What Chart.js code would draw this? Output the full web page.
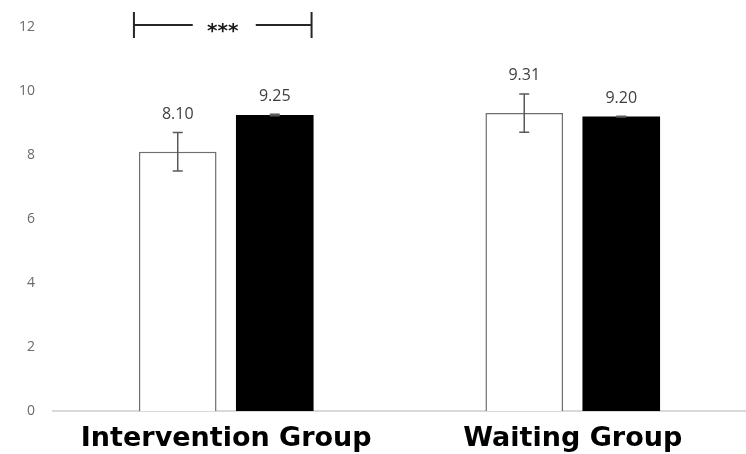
<!doctype html>
<html>

<head>
    <meta charset="utf-8" />
    <title>Intervention vs waiting group</title>
    <style>
        html,
        body {
            margin: 0px;
            padding: 0px;
            background-color: #ffffff;
        }

        .chart {
            width: 746px;
            height: 454px;
        }
    </style>
</head>

<body>

    <div class="chart">
        <canvas id="chart_groups"></canvas>
    </div>

    <script src="https://cdn.jsdelivr.net/npm/chart.js@4.4.0/dist/chart.umd.min.js"></script>

    <script>

        // data
        var groups = ['Intervention Group', 'Waiting Group'];
        var seriesNames = ['Pre', 'Post'];
        var preValues = [8.10, 9.31];
        var postValues = [9.25, 9.20];
        var preErrors = [0.60, 0.60];
        var postErrors = [0.02, 0.01];
        var yTicks = [0, 2, 4, 6, 8, 10, 12];
        var significance = '***';

        // error bars + value labels above each bar
        var errorBarsPlugin = {
            id: 'errorBars',
            afterDatasetsDraw: function (chart) {
                var ctx = chart.ctx;
                var y = chart.scales.y;
                chart.data.datasets.forEach(function (ds, i) {
                    var meta = chart.getDatasetMeta(i);
                    meta.data.forEach(function (bar, j) {
                        var v = ds.data[j];
                        var e = ds.errors[j];
                        var top = y.getPixelForValue(v + e);
                        var bottom = y.getPixelForValue(v - e);
                        ctx.save();
                        ctx.strokeStyle = '#595959';
                        ctx.lineWidth = 1.5;
                        ctx.beginPath();
                        ctx.moveTo(bar.x, top);
                        ctx.lineTo(bar.x, bottom);
                        ctx.moveTo(bar.x - 5, top);
                        ctx.lineTo(bar.x + 5, top);
                        ctx.moveTo(bar.x - 5, bottom);
                        ctx.lineTo(bar.x + 5, bottom);
                        ctx.stroke();

                        ctx.fillStyle = '#404040';
                        ctx.font = '16px "Open Sans"';
                        ctx.textAlign = 'center';
                        ctx.textBaseline = 'middle';
                        ctx.fillText(v.toFixed(2), bar.x, Math.min(top, bar.y) - 18);
                        ctx.restore();
                    });
                });
            }
        };

        // significance bracket over the intervention group
        var bracketPlugin = {
            id: 'bracket',
            afterDraw: function (chart) {
                var ctx = chart.ctx;
                var left = chart.getDatasetMeta(0).data[0];
                var right = chart.getDatasetMeta(1).data[0];
                var x1 = left.x - left.width / 2 - 5;
                var x2 = right.x + right.width / 2 - 2;
                var yy = chart.scales.y.getPixelForValue(12) - 2;
                var mid = (x1 + x2) / 2;
                ctx.save();
                ctx.strokeStyle = '#262626';
                ctx.lineWidth = 2;
                ctx.beginPath();
                ctx.moveTo(x1, yy - 13);
                ctx.lineTo(x1, yy + 13);
                ctx.moveTo(x2, yy - 13);
                ctx.lineTo(x2, yy + 13);
                ctx.moveTo(x1, yy);
                ctx.lineTo(mid - 30, yy);
                ctx.moveTo(mid + 33, yy);
                ctx.lineTo(x2, yy);
                ctx.stroke();
                ctx.fillStyle = '#1a1a1a';
                ctx.font = 'bold 20px "DejaVu Sans"';
                ctx.textAlign = 'center';
                ctx.textBaseline = 'middle';
                ctx.fillText(significance, mid, yy + 7);
                ctx.restore();
            }
        };

        var ctx_groups = document.getElementById('chart_groups').getContext('2d');
        var chart_groups = new Chart(ctx_groups, {
            type: 'bar',
            data: {
                labels: groups,
                datasets: [
                    {
                        label: seriesNames[0],
                        data: preValues,
                        errors: preErrors,
                        backgroundColor: '#ffffff',
                        borderColor: '#6e6e6e',
                        borderWidth: 1.5
                    },
                    {
                        label: seriesNames[1],
                        data: postValues,
                        errors: postErrors,
                        backgroundColor: '#000000',
                        borderColor: '#000000',
                        borderWidth: 0
                    }
                ]
            },
            options: {
                animation: false,
                responsive: true,
                maintainAspectRatio: false,
                layout: { padding: { top: 27, right: 0, left: 0, bottom: 0 } },
                categoryPercentage: 0.56,
                barPercentage: 0.8,
                plugins: {
                    legend: { display: false },
                    tooltip: { enabled: false }
                },
                scales: {
                    x: {
                        grid: { display: false },
                        border: { color: '#d9d9d9', width: 2 },
                        ticks: {
                            color: '#000000',
                            font: { family: '"DejaVu Sans"', weight: 'bold', size: 27 },
                            padding: 4
                        },
                        afterFit: function (s) { s.height = 43; }
                    },
                    y: {
                        min: 0,
                        max: 12,
                        afterBuildTicks: function (s) {
                            s.ticks = yTicks.map(function (v) { return { value: v }; });
                        },
                        grid: { display: false, drawTicks: false },
                        border: { display: false },
                        ticks: {
                            color: '#6b6b6b',
                            font: { family: '"Open Sans"', size: 14 },
                            padding: 18
                        },
                        afterFit: function (s) { s.width = 53; }
                    }
                }
            },
            plugins: [errorBarsPlugin, bracketPlugin]
        });

    </script>

</body>

</html>
